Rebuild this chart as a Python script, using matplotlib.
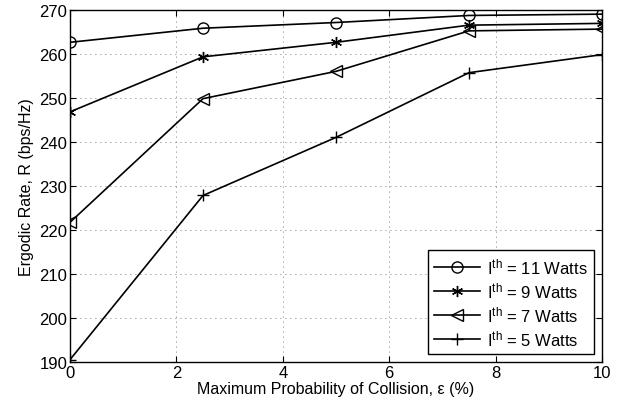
import matplotlib
matplotlib.use("Agg")
import matplotlib.pyplot as plt

plt.rcParams['font.family'] = ['Liberation Sans', 'DejaVu Sans']
plt.rcParams['mathtext.fontset'] = 'custom'
plt.rcParams['mathtext.rm'] = 'Liberation Sans'
plt.rcParams['mathtext.it'] = 'Liberation Sans:italic'

x = [0, 2.5, 5, 7.5, 10]
r_11 = [262.7, 265.9, 267.2, 268.8, 269.1]
r_9 = [246.9, 259.4, 262.7, 266.6, 267.0]
r_7 = [221.8, 249.9, 256.1, 265.3, 265.7]
r_5 = [190.6, 227.9, 241.1, 255.8, 259.9]
labels = ["I$^{\\mathrm{th}}$ = 11 Watts", "I$^{\\mathrm{th}}$ = 9 Watts",
          "I$^{\\mathrm{th}}$ = 7 Watts", "I$^{\\mathrm{th}}$ = 5 Watts"]

fig = plt.figure(figsize=(6.23, 4.14), dpi=100)
ax = fig.add_axes([0.1124, 0.1225, 0.8539, 0.8505])

kw = dict(color='black', lw=1.2, mfc='none', mec='black', mew=1.0)
ax.plot(x, r_11, marker='o', ms=8, label=labels[0], **kw)
ax.plot(x, r_9, marker=(6, 2, 0), ms=8, label=labels[1], **kw)
ax.plot(x, r_7, marker='<', ms=9, label=labels[2], **kw)
ax.plot(x, r_5, marker='+', ms=9, label=labels[3], **kw)

ax.set_xlim(0, 10)
ax.set_ylim(190, 270)
ax.set_xticks([0, 2, 4, 6, 8, 10])
ax.set_yticks(range(190, 271, 10))
ax.grid(True, linestyle=(0, (1, 5)), color='black', lw=0.6, alpha=0.7)
ax.tick_params(direction='in', top=True, right=True, labelsize=12, length=4, pad=2)
for s in ax.spines.values():
    s.set_linewidth(1.0)
ax.set_xlabel("Maximum Probability of Collision, ε (%)", fontsize=11.5, labelpad=1)
ax.set_ylabel("Ergodic Rate, R (bps/Hz)", fontsize=11.5, labelpad=4)

leg = ax.legend(loc='lower right', fontsize=12, fancybox=False, framealpha=1,
                edgecolor='black', handlelength=2.8, borderaxespad=0.5,
                labelspacing=0.25, handletextpad=0.4, borderpad=0.35)
leg.get_frame().set_linewidth(1.0)

fig.savefig("out.png", dpi=100)
